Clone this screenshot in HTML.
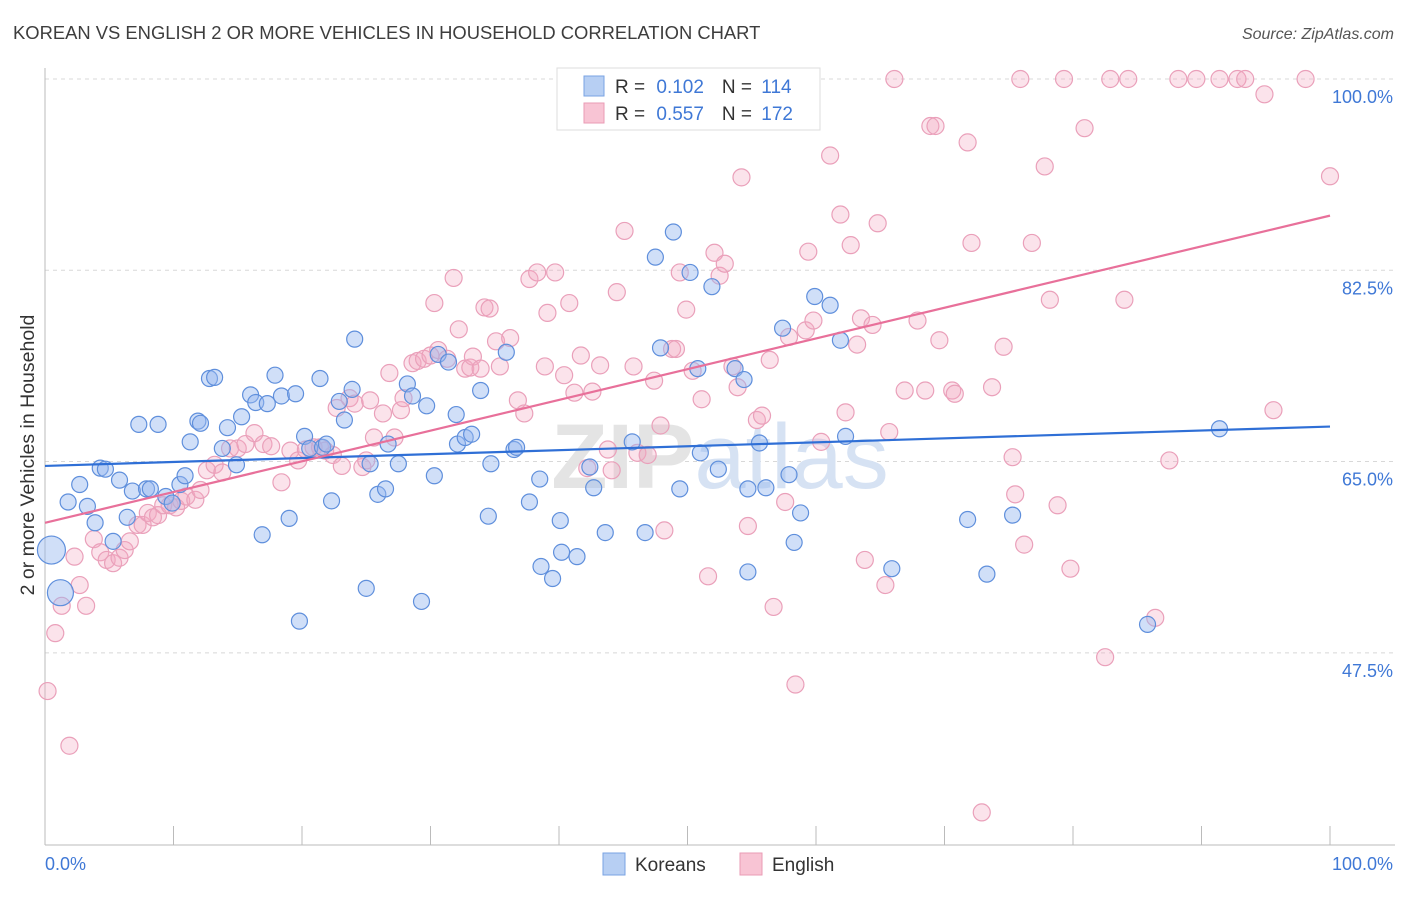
<!DOCTYPE html>
<html><head><meta charset="utf-8"><style>
body{margin:0;background:#fff;font-family:"Liberation Sans",sans-serif;}
svg text{font-family:"Liberation Sans",sans-serif;}
</style></head><body>
<svg width="1406" height="892" xmlns="http://www.w3.org/2000/svg" id="chart">
<text x="13" y="39" font-size="18.4" fill="#3d3d3d">KOREAN VS ENGLISH 2 OR MORE VEHICLES IN HOUSEHOLD CORRELATION CHART</text>
<text x="1394" y="39" font-size="16" fill="#555" font-style="italic" text-anchor="end">Source: ZipAtlas.com</text>
<g id="grid"></g>
<g id="axes"></g>
<text x="720" y="488" font-size="92" fill="#e4e4e4" text-anchor="middle" font-weight="bold">ZIP<tspan fill="#d6e2f3" font-weight="normal">atlas</tspan></text>
<g id="marks"></g>
<g id="trends"></g>
<text transform="translate(34,455) rotate(-90)" font-size="19.5" fill="#333" text-anchor="middle">2 or more Vehicles in Household</text>
<g>
<rect x="557" y="68" width="263" height="62" fill="#fff" stroke="#ddd"/>
<rect x="584" y="76" width="20" height="20" fill="#b7cff3" stroke="#7aa3e3"/>
<rect x="584" y="103" width="20" height="20" fill="#f8c4d4" stroke="#ea9bb5"/>
<text x="615" y="93" font-size="19" fill="#333">R = <tspan fill="#3f78d6" dx="6">0.102</tspan><tspan dx="18">N = </tspan><tspan fill="#3f78d6" dx="4">114</tspan></text>
<text x="615" y="120" font-size="19" fill="#333">R = <tspan fill="#3f78d6" dx="6">0.557</tspan><tspan dx="18">N = </tspan><tspan fill="#3f78d6" dx="4">172</tspan></text>
</g>
<g>
<rect x="603" y="853" width="22" height="22" fill="#b7cff3" stroke="#7aa3e3"/>
<text x="635" y="871" font-size="19" fill="#333">Koreans</text>
<rect x="740" y="853" width="22" height="22" fill="#f8c4d4" stroke="#ea9bb5"/>
<text x="772" y="871" font-size="19" fill="#333">English</text>
</g>
</svg>
<script>
const yTicks=[100,82.5,65,47.5];
const yTickLabels=["100.0%","82.5%","65.0%","47.5%"];
const xTickLabels=["0.0%","100.0%"];
const koreanX=[0.5,1.2,1.8,2.7,3.3,3.9,4.3,4.7,5.3,5.8,6.4,6.8,7.3,7.9,8.2,8.8,9.4,9.9,10.5,10.9,11.3,11.9,12.1,12.8,13.2,13.8,14.2,14.9,15.3,16.0,16.4,16.9,17.3,17.9,18.4,19.0,19.5,19.8,20.2,20.6,21.4,21.6,21.9,22.3,22.9,23.3,23.9,24.1,25.0,25.3,25.9,26.5,26.7,27.5,28.2,28.6,29.3,29.7,30.3,30.6,31.4,32.0,32.1,32.7,33.2,33.9,34.5,34.7,35.9,36.5,36.7,37.7,38.5,38.6,39.5,40.1,40.2,41.4,42.4,42.7,43.6,45.7,46.7,47.5,47.9,48.9,49.4,50.2,50.8,51.0,51.9,52.4,53.7,54.4,54.7,54.7,55.6,56.1,57.9,58.3,58.8,59.9,61.1,61.9,62.3,65.9,71.8,73.3,75.3,85.8,91.4,57.4];
const koreanY=[56.9,53.0,61.3,62.9,60.9,59.4,64.4,64.3,57.7,63.3,59.9,62.3,68.4,62.5,62.5,68.4,61.8,61.2,62.9,63.7,66.8,68.7,68.5,72.6,72.7,66.2,68.1,64.7,69.1,71.1,70.4,58.3,70.3,72.9,71.0,59.8,71.2,50.4,67.3,66.2,72.6,66.3,66.6,61.4,70.5,68.8,71.6,76.2,53.4,64.8,62.0,62.5,66.6,64.8,72.1,71.0,52.2,70.1,63.7,74.8,74.1,69.3,66.6,67.2,67.5,71.5,60.0,64.8,75.0,66.1,66.3,61.3,63.4,55.4,54.3,59.6,56.7,56.3,64.5,62.6,58.5,66.8,58.5,83.7,75.4,86.0,62.5,82.3,73.5,65.8,81.0,64.3,73.5,72.5,62.5,54.9,66.7,62.6,63.8,57.6,60.3,80.1,79.3,76.1,67.3,55.2,59.7,54.7,60.1,50.1,68.0,77.2];
const koreanBig=[14,13];
const englishX=[0.2,0.8,1.3,1.9,2.3,2.7,3.2,3.8,4.3,4.8,5.3,5.8,6.2,6.6,7.2,7.6,8.0,8.4,8.8,9.2,9.7,10.2,10.6,11.0,11.7,12.1,12.6,13.2,13.8,14.4,15.0,15.6,16.3,17.0,17.6,18.4,19.1,19.7,20.3,20.9,21.4,21.8,22.4,22.7,23.1,23.7,24.1,24.7,25.0,25.3,25.6,26.3,26.8,27.2,27.7,27.9,28.6,29.0,29.5,30.0,30.3,30.6,31.3,31.8,32.2,32.7,33.1,33.3,33.9,34.2,34.6,35.1,35.4,36.2,36.8,37.3,37.7,38.3,38.9,39.1,39.7,40.4,40.8,41.2,41.7,42.2,42.6,43.2,43.8,44.1,44.5,45.1,45.8,46.1,46.9,47.4,47.9,48.2,48.8,49.1,49.4,49.9,50.4,51.1,51.6,52.1,52.5,52.9,53.5,53.9,54.2,54.7,55.4,55.8,56.4,56.7,57.6,57.9,58.4,59.2,59.4,59.8,60.4,61.1,61.9,62.3,62.7,63.2,63.5,63.8,64.4,64.8,65.4,65.7,66.1,66.9,67.9,68.5,68.9,69.3,69.6,70.6,70.8,71.8,72.1,72.9,73.7,74.6,75.3,75.5,75.9,76.2,76.8,77.8,78.2,78.8,79.3,79.8,80.9,82.5,82.9,84.0,84.3,86.4,87.5,88.2,89.6,91.4,92.8,93.4,94.9,95.6,98.1,100];
const englishY=[44.0,49.3,51.8,39.0,56.3,53.7,51.8,57.9,56.7,56.0,55.7,56.2,56.9,57.7,59.2,59.2,60.3,59.9,60.1,61.0,61.0,60.8,61.4,61.8,61.5,62.4,64.2,64.7,64.0,66.2,66.2,66.6,67.6,66.6,66.4,63.1,66.0,65.1,66.1,66.3,66.3,66.0,65.6,69.9,64.6,70.8,70.3,64.5,65.1,70.6,67.2,69.4,73.1,67.2,69.7,70.8,74.0,74.2,74.4,74.7,79.5,75.2,74.4,81.8,77.1,73.5,73.6,74.6,73.5,79.1,79.0,76.0,73.7,76.3,70.6,69.4,81.7,82.3,73.7,78.6,82.3,72.9,79.5,71.3,74.7,64.4,71.4,73.8,66.1,64.2,80.5,86.1,73.7,65.8,65.6,72.4,68.3,58.7,75.3,75.3,82.3,78.9,73.3,70.7,54.5,84.1,82.0,83.1,73.7,71.8,91.0,59.1,68.8,69.2,74.3,51.7,61.3,76.4,44.6,77.0,84.2,77.9,66.8,93.0,87.6,69.5,84.8,75.7,78.1,56.0,77.5,86.8,53.7,67.7,100,71.5,77.9,71.5,95.7,95.7,76.1,71.5,71.2,94.2,85.0,32.9,71.8,75.5,65.4,62.0,100,57.4,85.0,92.0,79.8,61.0,100,55.2,95.5,47.1,100,79.8,100,50.7,65.1,100,100,100,100,100,98.6,69.7,100,91.1];
const koreanTrend=[64.6,68.2];
const englishTrend=[59.4,87.5];

const NS="http://www.w3.org/2000/svg";
const X0=45,X1=1330,YTOP=79,PXPER=10.93,BOTTOM=845;
function xs(v){return X0+(X1-X0)*v/100;}
function ys(v){return YTOP+(100-v)*PXPER;}
function mk(tag,attrs,parent){const e=document.createElementNS(NS,tag);for(const k in attrs)e.setAttribute(k,attrs[k]);parent.appendChild(e);return e;}
const grid=document.getElementById('grid'),axes=document.getElementById('axes'),marks=document.getElementById('marks'),trends=document.getElementById('trends');
yTicks.forEach((t,i)=>{
  const l=mk('line',{x1:X0,x2:1395,y1:ys(t),y2:ys(t),stroke:'#d8d8d8','stroke-dasharray':'4,4'},grid);
  
  
  const tx=mk('text',{x:1393,y:ys(t)+24,'font-size':18,fill:'#3f78d6','text-anchor':'end'},axes);
  tx.textContent=yTickLabels[i];
  
  
});
const la=mk('line',{x1:X0,x2:X0,y1:68,y2:BOTTOM,stroke:'#bbb'},axes);


const ba=mk('line',{x1:X0,x2:1395,y1:BOTTOM,y2:BOTTOM,stroke:'#bbb'},axes);


for(let i=0;i<=10;i++){
  const t=mk('line',{x1:xs(i*10),x2:xs(i*10),y1:826,y2:BOTTOM,stroke:'#bbb'},axes);
  
  
}
const xl0=mk('text',{x:X0,y:870,'font-size':18,fill:'#3f78d6'},axes);xl0.textContent=xTickLabels[0];


const xl1=mk('text',{x:1393,y:870,'font-size':18,fill:'#3f78d6','text-anchor':'end'},axes);xl1.textContent=xTickLabels[1];


englishX.forEach((v,i)=>{
  const c=mk('circle',{cx:xs(v),cy:ys(englishY[i]),r:8.5,fill:'rgba(244,168,194,0.32)',stroke:'#eaa0ba','stroke-width':1.2},marks);
  
  
});
koreanX.forEach((v,i)=>{
  const r=i<koreanBig.length?koreanBig[i]:8;
  const c=mk('circle',{cx:xs(v),cy:ys(koreanY[i]),r:r,fill:'rgba(150,185,240,0.45)',stroke:'#5f8fdc','stroke-width':1.2},marks);
  
  
});
const tk=mk('line',{x1:xs(0),y1:ys(koreanTrend[0]),x2:xs(100),y2:ys(koreanTrend[1]),stroke:'#2f6fd6','stroke-width':2.2},trends);


const te=mk('line',{x1:xs(0),y1:ys(englishTrend[0]),x2:xs(100),y2:ys(englishTrend[1]),stroke:'#e8709a','stroke-width':2.2},trends);


</script>
</body></html>
